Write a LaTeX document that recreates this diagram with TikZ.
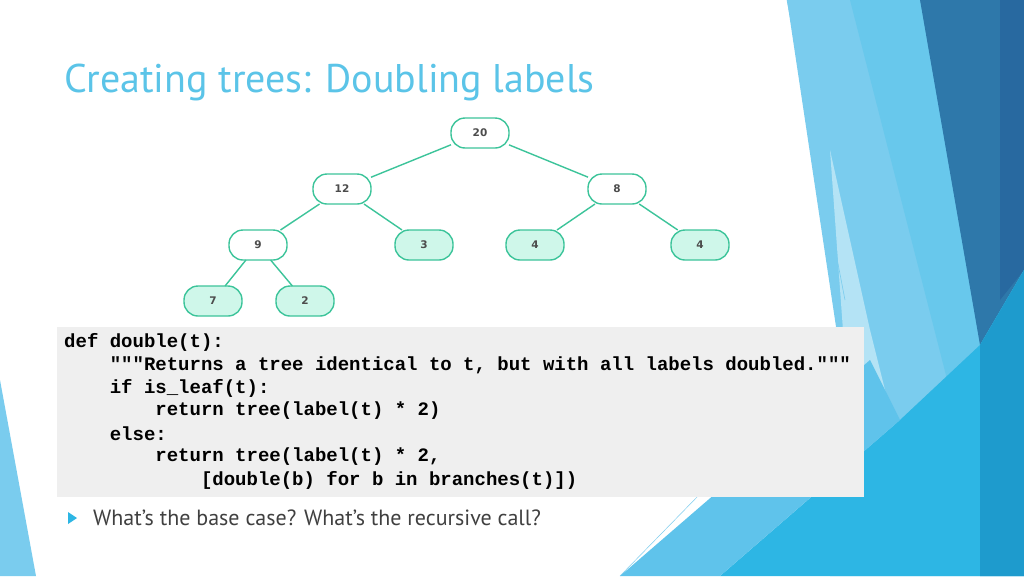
\documentclass[tikz,border=0pt]{standalone}
\usepackage{fontspec}
\setmainfont{PT Sans}
\setmonofont{Liberation Mono}
\newfontfamily\treefont{DejaVu Sans}
\begin{document}
\begin{tikzpicture}[x=1pt,y=-1pt,
  tn/.style={draw=edgec,line width=1.4pt,rounded corners=14pt,minimum width=58pt,minimum height=30pt,inner sep=0pt,outer sep=0pt,font=\treefont\bfseries\fontsize{10.5}{12}\selectfont,text=black!70,fill=white},
  lf/.style={tn,fill=mint},
  ed/.style={draw=edgec,line width=1.4pt},
  code/.style={font=\ttfamily\bfseries\fontsize{19}{23}\selectfont,anchor=west,inner sep=0pt}]
\definecolor{mint}{HTML}{CFF7EA}
\definecolor{edgec}{HTML}{3CC49A}
\useasboundingbox (0,0) rectangle (1024,576);
\fill[white] (0,0) rectangle (1024,576);
% right decoration
\fill[color={rgb,255:red,122;green,204;blue,238}] (787,0)--(1024,0)--(1024,576)--(830,576)--(850,420)--cycle;
\fill[color={rgb,255:red,180;green,227;blue,245}] (830,150)--(870,330)--(900,450)--(860,520)--(848,400)--cycle;
\fill[color={rgb,255:red,104;green,200;blue,236}] (850,0)--(920,0)--(1000,280)--(960,430)--cycle;
\fill[color={rgb,255:red,46;green,120;blue,170}] (920,0)--(1024,0)--(1024,270)--(980,345)--(960,230)--cycle;
\fill[color={rgb,255:red,40;green,105;blue,160}] (1000,0)--(1024,0)--(1024,270)--(1000,300)--cycle;
\fill[color={rgb,255:red,45;green,182;blue,228}] (1024,270)--(1024,576)--(720,576)--(900,420)--(980,345)--cycle;
\fill[color={rgb,255:red,30;green,155;blue,205}] (1024,270)--(1024,576)--(980,576)--(980,345)--cycle;
\fill[color={rgb,255:red,95;green,195;blue,235}] (620,576)--(870,360)--(900,420)--(720,576)--cycle;
\draw[color={rgb,255:red,122;green,204;blue,238},line width=0.6pt] (787,0)--(845,300);
\draw[color={rgb,255:red,122;green,204;blue,238},line width=0.5pt] (860,330)--(620,576);
% left decoration
\fill[color={rgb,255:red,122;green,204;blue,238}] (0,380)--(36,576)--(0,576)--cycle;
% title
\node[anchor=base west,inner sep=0pt,text={rgb,255:red,91;green,196;blue,232},font=\fontsize{40}{42}\selectfont] (title) at (64,92) {Creating trees: Doubling labels};
% tree
\node[tn] (n20) at (480,133) {20};
\node[tn] (n12) at (342,189) {12};
\node[tn] (n8) at (617,189) {8};
\node[tn] (n9) at (258,245) {9};
\node[lf] (n3) at (424,245) {3};
\node[lf] (n4a) at (535,245) {4};
\node[lf] (n4b) at (700,245) {4};
\node[lf] (n7) at (213,301) {7};
\node[lf] (n2) at (305,301) {2};
\draw[ed] (n20)--(n12); \draw[ed] (n20)--(n8);
\draw[ed] (n12)--(n9); \draw[ed] (n12)--(n3);
\draw[ed] (n8)--(n4a); \draw[ed] (n8)--(n4b);
\draw[ed] (n9)--(n7); \draw[ed] (n9)--(n2);
% code
\fill[color={rgb,255:red,239;green,239;blue,239}] (57,327) rectangle (864,497);
\node[code] (c1) at (64,342) {def double(t):};
\node[code] (c2) at (64,365) {\ \ \ \ """Returns a tree identical to t, but with all labels doubled."""};
\node[code] (c3) at (64,388) {\ \ \ \ if is\_leaf(t):};
\node[code] (c4) at (64,411) {\ \ \ \ \ \ \ \ return tree(label(t) * 2)};
\node[code] (c5) at (64,434) {\ \ \ \ else:};
\node[code] (c6) at (64,457) {\ \ \ \ \ \ \ \ return tree(label(t) * 2,};
\node[code] (c7) at (64,480) {\ \ \ \ \ \ \ \ \ \ \ \ [double(b) for b in branches(t)])};
% bullet
\fill[color={rgb,255:red,45;green,182;blue,228}] (68,512)--(77,518)--(68,524)--cycle;
\node[anchor=west,inner sep=0pt,text=black!75,font=\fontsize{22}{24}\selectfont] (q) at (93,518) {What's the base case? What's the recursive call?};
\end{tikzpicture}
\end{document}
